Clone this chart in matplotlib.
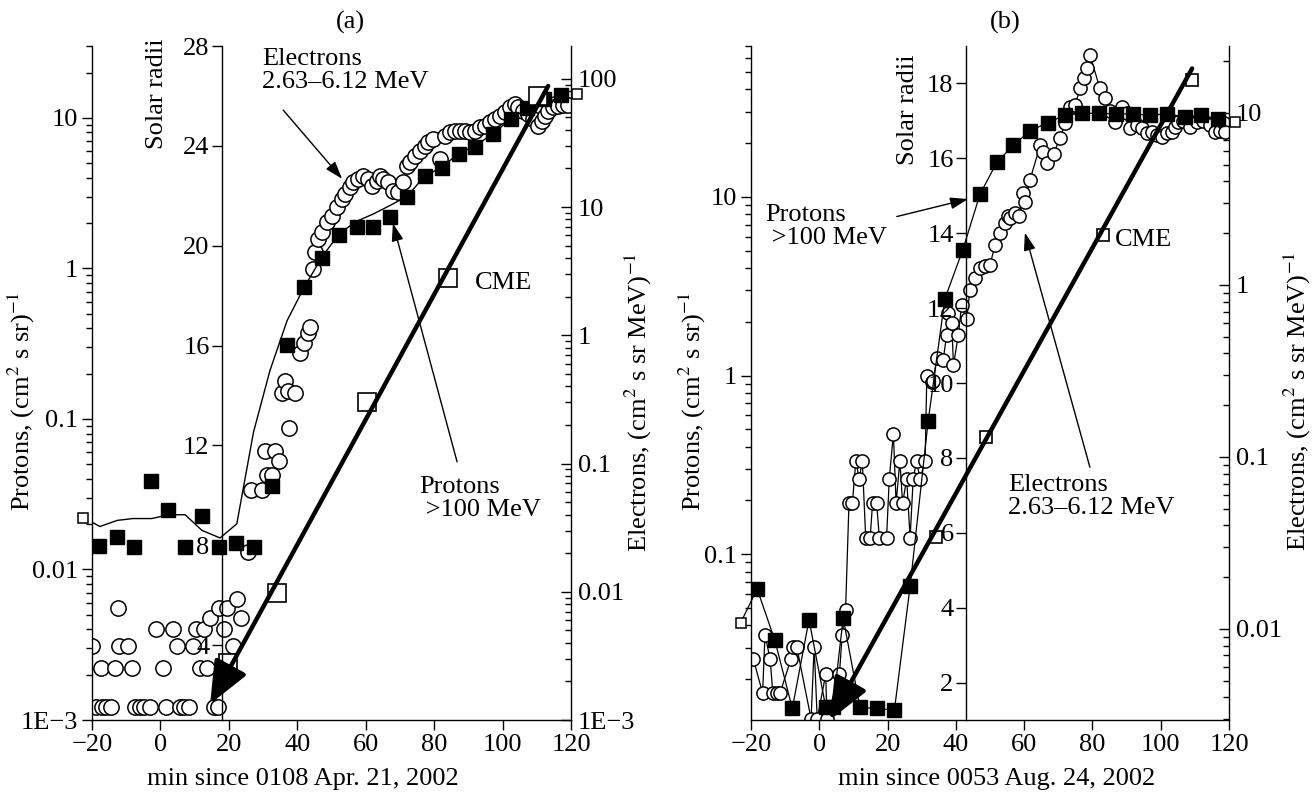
import matplotlib
matplotlib.use('Agg')
import matplotlib.pyplot as plt
from matplotlib.ticker import LogLocator, FixedLocator, FixedFormatter, NullFormatter

FS = 19
plt.rcParams['font.family'] = 'Liberation Serif'
plt.rcParams['mathtext.fontset'] = 'stix'
plt.rcParams['font.size'] = FS

# ── panel (a): 21 Apr 2002 ──────────────────────────────────────────────────
# protons >100 MeV, filled squares
prot_a_x = [-18.0, -12.8, -7.7, -2.8, 2.1, 7.2, 12.1, 17.1, 22.1, 27.2, 32.5, 37.1,
            42.0, 47.3, 52.2, 57.4, 62.0, 67.0, 72.0, 77.2, 82.2, 87.1, 92.0, 97.2,
            102.4, 107.1, 112.2, 117.0]
prot_a_y = [0.0143, 0.0164, 0.0142, 0.039, 0.0249, 0.0142, 0.0225, 0.0142, 0.015,
            0.0142, 0.0356, 0.308, 0.75, 1.17, 1.67, 1.88, 1.88, 2.19, 2.97, 4.09,
            4.64, 5.72, 6.45, 7.84, 9.77, 11.6, 13.3, 14.1]
# protons, thin line
line_a_x = [-22.5, -17.7, -12.6, -8.0, -2.5, 2.3, 7.2, 12.1, 17.4, 22.3, 27.2, 32.0,
            37.0, 42.0, 47.3, 52.2, 57.2, 62.2, 67.1, 72.0, 77.2, 82.2, 87.1, 92.0,
            97.2, 102.4, 107.1, 112.2, 117.0]
line_a_y = [0.0221, 0.0193, 0.0212, 0.0218, 0.0218, 0.0231, 0.0231, 0.0182, 0.0162,
            0.0201, 0.082, 0.21, 0.45, 0.75, 1.2, 1.7, 2.05, 2.3, 2.62, 3.0, 4.1,
            4.7, 5.8, 6.5, 7.9, 9.8, 11.6, 13.3, 14.1]
# electrons 2.63-6.12 MeV, open circles
elec_a_x = [-20.0, -18.9, -17.4, -17.2, -15.9, -14.4, -13.3, -12.3, -12.0, -9.4, -8.4,
            -7.4, -6.1, -4.7, -3.2, -1.4, 0.6, 1.5, 3.6, 4.8, 5.7, 7.0, 8.4, 9.6, 10.4,
            11.6, 12.7, 13.5, 14.5, 15.5, 16.7, 17.1, 18.6, 19.4, 21.3, 22.5, 23.5,
            25.5, 26.4, 29.6, 30.4, 31.1, 32.5, 33.6, 34.5, 35.5, 36.4, 37.4, 37.7,
            39.4, 40.8, 41.8, 43.2, 43.7, 44.7, 45.2, 46.1, 47.2, 48.6, 50.1, 51.5,
            53.0, 54.0, 55.4, 56.3, 57.8, 59.2, 60.7, 61.8, 63.2, 64.2, 65.1, 66.5,
            68.0, 69.5, 70.9, 72.0, 73.0, 74.4, 75.9, 77.4, 78.2, 79.7, 81.8, 83.2,
            84.7, 86.1, 87.6, 89.1, 90.5, 92.0, 93.4, 94.9, 96.4, 97.8, 99.3, 100.8,
            102.2, 103.7, 104.6, 106.0, 107.5, 108.9, 110.4, 111.5, 112.5, 113.3,
            114.8, 116.3, 117.7, 119.2]
elec_a_y = [0.0038, 0.00127, 0.00255, 0.00127, 0.00127, 0.00127, 0.00255, 0.0075,
            0.0038, 0.0038, 0.00255, 0.00127, 0.00127, 0.00127, 0.00127, 0.0051,
            0.00255, 0.00127, 0.0051, 0.0038, 0.00127, 0.00127, 0.00127, 0.0038,
            0.0051, 0.00255, 0.0051, 0.00255, 0.0063, 0.00127, 0.00127, 0.0075,
            0.0051, 0.0075, 0.0038, 0.0088, 0.0063, 0.0206, 0.0627, 0.0627, 0.125,
            0.0821, 0.0821, 0.125, 0.104, 0.356, 0.44, 0.366, 0.188, 0.356, 0.73,
            0.87, 1.04, 1.17, 3.27, 4.45, 5.62, 6.38, 7.64, 8.55, 10.0, 11.5, 12.6,
            14.3, 15.7, 16.5, 17.5, 16.5, 14.6, 16.0, 17.6, 16.5, 15.7, 13.4, 13.1,
            15.7, 21.0, 22.5, 25.2, 27.5, 30.1, 32.2, 34.0, 23.7, 36.1, 38.5, 39.5,
            39.5, 39.5, 38.5, 39.5, 42.2, 43.2, 46.1, 48.7, 51.7, 55.2, 60.4, 63.8,
            60.4, 56.5, 53.3, 48.7, 43.2, 47.2, 51.7, 56.5, 60.4, 61.7, 62.6, 62.6]
# CME height-time (solar radii)
cme_a_x = [19.8, 34.0, 60.4, 84.0, 110.4]
cme_a_r = [3.3, 6.08, 13.76, 18.7, 26.0]
cme_fit_a_x = [113.3, 14.5]
cme_fit_a_r = [26.4, 1.64]
# single open squares at the frame edges
edge_a_prot = (-22.5, 0.0221)
edge_a_elec = (121.8, 76.0)

# ── panel (b): 24 Aug 2002 ──────────────────────────────────────────────────
prot_b_x = [-18.2, -13.0, -7.9, -3.0, 1.9, 4.0, 7.0, 11.9, 17.0, 22.0, 26.6, 31.9,
            36.8, 42.0, 47.1, 52.0, 56.8, 61.7, 66.9, 72.0, 76.9, 81.9, 86.9, 91.8,
            96.9, 101.8, 107.0, 111.8, 116.9]
prot_b_y = [0.064, 0.0329, 0.0137, 0.043, 0.0139, 0.0139, 0.044, 0.0139, 0.0137,
            0.0134, 0.066, 0.56, 2.7, 5.04, 10.4, 15.6, 19.5, 23.4, 26.1, 28.7, 29.4,
            29.4, 29.2, 29.2, 28.7, 29.2, 28.1, 28.7, 27.3]
elec_b_x = [-19.3, -16.6, -15.9, -14.4, -13.6, -12.5, -11.5, -8.3, -7.6, -6.6, -2.4,
            -1.5, -0.6, 1.9, 2.2, 5.9, 6.7, 7.7, 8.7, 9.7, 10.7, 11.7, 12.6, 13.6,
            14.9, 15.6, 16.8, 17.6, 19.7, 20.5, 21.7, 22.5, 23.6, 24.4, 25.6, 26.6,
            27.5, 28.5, 29.5, 31.0, 31.5, 32.9, 33.4, 34.4, 36.3, 37.3, 37.8, 38.8,
            39.3, 40.7, 41.7, 43.2, 44.1, 45.6, 47.1, 48.5, 50.0, 51.5, 52.9, 54.4,
            55.4, 55.9, 57.3, 58.6, 59.8, 60.3, 61.7, 64.7, 65.6, 66.6, 68.6, 70.5,
            72.0, 73.4, 74.9, 76.4, 77.4, 78.3, 79.3, 82.2, 83.7, 85.2, 86.6, 88.6,
            90.0, 91.0, 93.0, 94.4, 95.9, 97.4, 98.8, 100.3, 101.8, 103.2, 104.2,
            105.2, 106.6, 108.6, 110.5, 112.5, 114.5, 115.9, 117.4, 118.4, 118.8]
elec_b_y = [0.00667, 0.00423, 0.00923, 0.00667, 0.00423, 0.00423, 0.00423, 0.00667,
            0.00788, 0.00788, 0.00299, 0.00788, 0.00299, 0.00547, 0.00299, 0.00547,
            0.00923, 0.0129, 0.0538, 0.0538, 0.0948, 0.0745, 0.0948, 0.0337, 0.0337,
            0.0538, 0.0538, 0.0337, 0.0337, 0.0745, 0.136, 0.0538, 0.0948, 0.0538,
            0.0745, 0.0337, 0.0745, 0.0948, 0.0745, 0.0948, 0.297, 0.274, 0.276,
            0.375, 0.367, 0.512, 0.687, 0.599, 0.34, 0.51, 0.765, 0.63, 0.935, 1.1,
            1.25, 1.28, 1.31, 1.71, 2.0, 2.28, 2.5, 2.45, 2.61, 2.5, 3.41, 3.05, 4.07,
            6.5, 5.96, 5.1, 5.8, 7.12, 8.71, 10.9, 11.1, 13.9, 15.9, 18.2, 21.7, 13.9,
            12.2, 10.2, 8.9, 10.9, 10.0, 8.15, 8.5, 8.15, 7.62, 7.7, 7.45, 7.28, 7.62,
            7.7, 8.32, 8.9, 9.0, 8.3, 8.9, 9.0, 8.5, 7.78, 7.9, 8.7, 7.7]
cme_b_x = [34.1, 48.8, 83.1, 109.2]
cme_b_r = [5.9, 8.57, 13.96, 18.1]
cme_fit_b_x = [109.2, 3.1]
cme_fit_b_r = [18.4, 1.0]
edge_b_prot = (-23.0, 0.0414)
edge_b_elec = (121.8, 8.86)

x_ticks = [-20, 0, 20, 40, 60, 80, 100, 120]


def log_axis(axis, ticks, labels):
    axis.set_major_locator(FixedLocator(ticks))
    axis.set_major_formatter(FixedFormatter(labels))
    axis.set_minor_locator(LogLocator(base=10, subs=range(2, 10), numticks=20))
    axis.set_minor_formatter(NullFormatter())


def build_panel(rect, p_lim, e_lim, r_lim, r_pos, r_ticks):
    ax = fig.add_axes(rect)
    ax_e = ax.twinx()
    ax_r = ax.twinx()
    ax.set_zorder(2)
    ax.patch.set_visible(False)
    ax_e.set_zorder(1)
    ax_r.set_zorder(3)

    ax.set_xlim(-20, 120)
    ax.set_xticks(x_ticks)
    ax.set_yscale('log')
    ax.set_ylim(*p_lim)
    ax_e.set_yscale('log')
    ax_e.set_ylim(*e_lim)
    ax_r.set_ylim(*r_lim)
    ax_r.set_yticks(r_ticks)

    for a in (ax, ax_e, ax_r):
        for s in a.spines.values():
            s.set_visible(False)
            s.set_linewidth(1.0)
    ax.spines['left'].set_visible(True)
    ax.spines['bottom'].set_visible(True)
    ax_e.spines['right'].set_visible(True)
    ax_r.spines['left'].set_visible(True)
    ax_r.spines['left'].set_position(('data', r_pos))
    ax_r.yaxis.tick_left()
    ax_r.yaxis.set_label_position('left')

    ax.tick_params(axis='both', which='major', direction='out', length=7, width=1,
                   labelsize=FS, pad=3)
    ax.tick_params(axis='y', which='minor', direction='out', length=4, width=1)
    ax_e.tick_params(axis='y', which='major', direction='in', length=7, width=1,
                     labelsize=FS, pad=5)
    ax_e.tick_params(axis='y', which='minor', direction='in', length=4, width=1)
    ax_r.tick_params(axis='y', which='major', direction='out', length=7, width=1,
                     labelsize=FS, pad=2)
    return ax, ax_e, ax_r


def thin_arrow(ax, text_xy, tip_xy):
    ax.annotate('', xy=tip_xy, xytext=text_xy, xycoords='axes fraction',
                textcoords='axes fraction',
                arrowprops=dict(arrowstyle='-|>,head_length=0.9,head_width=0.3',
                                mutation_scale=12, lw=1.0, color='black',
                                shrinkA=0, shrinkB=0))


def cme_arrow(ax, xs, rs):
    ax.annotate('', xy=(xs[1], rs[1]), xytext=(xs[0], rs[0]),
                arrowprops=dict(arrowstyle='-|>,head_length=1.3,head_width=0.55',
                                mutation_scale=20, lw=3.2, color='black',
                                shrinkA=0, shrinkB=0))


def set_ylab(axis, text, pos):
    axis.set_label_text(text, fontsize=FS)
    axis.label.set_va('center')
    axis.set_label_coords(*pos)


fig = plt.figure(figsize=(13.15, 7.95), dpi=100)

# ── (a) ─────────────────────────────────────────────────────────────────────
ax, ax_e, ax_r = build_panel([0.07, 0.0943, 0.3643, 0.8478], (1e-3, 30), (1e-3, 180),
                             (1, 28), 18, [4, 8, 12, 16, 20, 24, 28])
log_axis(ax.yaxis, [1e-3, 1e-2, 1e-1, 1, 10], ['1E\u22123', '0.01', '0.1', '1', '10'])
log_axis(ax_e.yaxis, [1e-3, 1e-2, 1e-1, 1, 10, 100],
         ['1E\u22123', '0.01', '0.1', '1', '10', '100'])

ax_e.plot(elec_a_x, elec_a_y, 'o', ms=11, mfc='white', mec='black', mew=1.1)
ax_e.plot(*edge_a_elec, 's', ms=7, mfc='white', mec='black', mew=1.1, clip_on=False)
ax.plot(line_a_x, line_a_y, '-', color='black', lw=1.0)
ax.plot(*edge_a_prot, 's', ms=7, mfc='white', mec='black', mew=1.1, clip_on=False)
ax.plot(prot_a_x, prot_a_y, 's', ms=10, color='black')
ax_r.plot(cme_a_x, cme_a_r, 's', ms=13, mfc='white', mec='black', mew=1.2)
cme_arrow(ax_r, cme_fit_a_x, cme_fit_a_r)

ax.set_xlabel('min since 0108 Apr. 21, 2002', fontsize=FS, labelpad=9, x=0.44)
set_ylab(ax.yaxis, 'Protons, (cm$^2$ s sr)$^{-1}$', (-0.148, 0.473))
set_ylab(ax_e.yaxis, 'Electrons, (cm$^2$ s sr MeV)$^{-1}$', (1.14, 0.472))
set_ylab(ax_r.yaxis, 'Solar radii', (0.135, 0.929))

ax_r.text(0.355, 0.997, 'Electrons\n2.63\u20136.12 MeV', transform=ax_r.transAxes,
          ha='left', va='top', fontsize=FS, linespacing=1.05)
thin_arrow(ax_r, (0.399, 0.905), (0.522, 0.803))
ax_r.text(0.683, 0.362, 'Protons\n >100 MeV', transform=ax_r.transAxes,
          ha='left', va='top', fontsize=FS, linespacing=1.05)
thin_arrow(ax_r, (0.762, 0.383), (0.628, 0.737))
ax_r.text(0.80, 0.648, 'CME', transform=ax_r.transAxes, ha='left', va='center',
          fontsize=FS)

# ── (b) ─────────────────────────────────────────────────────────────────────
bx, bx_e, bx_r = build_panel([0.5711, 0.0943, 0.3635, 0.8478], (0.0118, 70),
                             (0.00295, 24.5), (1, 19), 43, [2, 4, 6, 8, 10, 12, 14, 16, 18])
log_axis(bx.yaxis, [0.1, 1, 10], ['0.1', '1', '10'])
log_axis(bx_e.yaxis, [0.01, 0.1, 1, 10], ['0.01', '0.1', '1', '10'])

bx_e.plot(elec_b_x, elec_b_y, '-', color='black', lw=0.9)
bx_e.plot(elec_b_x, elec_b_y, 'o', ms=9.5, mfc='white', mec='black', mew=1.1)
bx_e.plot(*edge_b_elec, 's', ms=7, mfc='white', mec='black', mew=1.1, clip_on=False)
bx.plot([edge_b_prot[0]] + prot_b_x, [edge_b_prot[1]] + prot_b_y, '-', color='black',
        lw=0.9, clip_on=False)
bx.plot(*edge_b_prot, 's', ms=7, mfc='white', mec='black', mew=1.1, clip_on=False)
bx.plot(prot_b_x, prot_b_y, 's', ms=9.5, color='black')
bx_r.plot(cme_b_x, cme_b_r, 's', ms=8.5, mfc='white', mec='black', mew=1.2)
cme_arrow(bx_r, cme_fit_b_x, cme_fit_b_r)

bx.set_xlabel('min since 0053 Aug. 24, 2002', fontsize=FS, labelpad=9, x=0.513)
set_ylab(bx.yaxis, 'Protons, (cm$^2$ s sr)$^{-1}$', (-0.123, 0.473))
set_ylab(bx_e.yaxis, 'Electrons, (cm$^2$ s sr MeV)$^{-1}$', (1.144, 0.473))
set_ylab(bx_r.yaxis, 'Solar radii', (0.328, 0.905))

bx_r.text(0.029, 0.766, 'Protons\n >100 MeV', transform=bx_r.transAxes,
          ha='left', va='top', fontsize=FS, linespacing=1.05)
thin_arrow(bx_r, (0.305, 0.747), (0.454, 0.773))
bx_r.text(0.762, 0.712, 'CME', transform=bx_r.transAxes, ha='left', va='center',
          fontsize=FS)
bx_r.text(0.538, 0.365, 'Electrons\n2.63\u20136.12 MeV', transform=bx_r.transAxes,
          ha='left', va='top', fontsize=FS, linespacing=1.05)
thin_arrow(bx_r, (0.709, 0.375), (0.573, 0.723))

fig.text(350 / 1315, 1 - 22 / 795, '(a)', ha='center', va='center', fontsize=FS)
fig.text(1005 / 1315, 1 - 22 / 795, '(b)', ha='center', va='center', fontsize=FS)

fig.savefig('out.png', dpi=100)
